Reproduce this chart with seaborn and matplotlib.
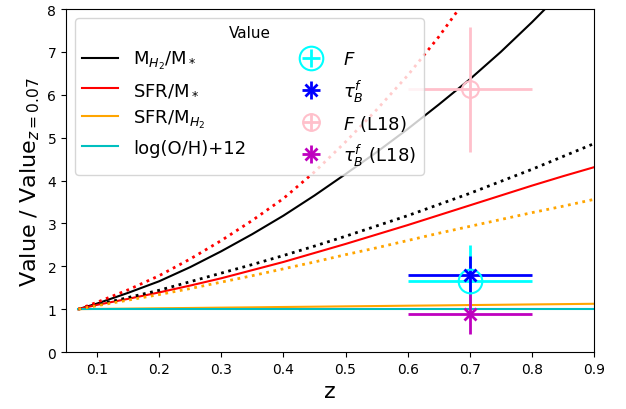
"""Normalised evolution of galaxy properties with redshift."""

import matplotlib
matplotlib.use("Agg")
import matplotlib.pyplot as plt
import seaborn as sns
import pandas as pd

# redshift grid
z = [0.07, 0.1, 0.15, 0.2, 0.25, 0.3, 0.35, 0.4, 0.45,
     0.5, 0.55, 0.6, 0.65, 0.7, 0.75, 0.8, 0.85, 0.9]

# solid curves (labelled)
mh2_mstar = [1.0, 1.13, 1.38, 1.65, 1.98, 2.35, 2.75, 3.18, 3.65,
             4.15, 4.66, 5.20, 5.77, 6.36, 7.00, 7.69, 8.42, 9.20]
sfr_mstar = [1.0, 1.10, 1.24, 1.39, 1.55, 1.72, 1.91, 2.10, 2.31,
             2.52, 2.74, 2.96, 3.19, 3.42, 3.65, 3.88, 4.10, 4.31]
sfr_mh2 = [1.0, 1.005, 1.012, 1.02, 1.027, 1.035, 1.042, 1.05, 1.057,
           1.065, 1.072, 1.08, 1.087, 1.095, 1.102, 1.11, 1.117, 1.125]
oh_12 = [1.0] * 18

# dotted curves (no label)
mh2_mstar_alt = [1.0, 1.10, 1.27, 1.44, 1.64, 1.84, 2.04, 2.25, 2.47,
                 2.70, 2.94, 3.18, 3.44, 3.70, 3.98, 4.26, 4.56, 4.86]
sfr_mstar_alt = [1.0, 1.16, 1.45, 1.78, 2.17, 2.60, 3.07, 3.58, 4.20,
                 4.90, 5.65, 6.45, 7.35, 8.35, 9.40, 10.5, 11.7, 13.0]
sfr_mh2_alt = [1.0, 1.08, 1.21, 1.34, 1.48, 1.63, 1.78, 1.94, 2.10,
               2.27, 2.43, 2.60, 2.77, 2.93, 3.09, 3.25, 3.40, 3.56]

# point measurements at z = 0.7
pt_z = 0.7
pt_zerr = 0.1
F_val, F_err = 1.66, 0.84
tau_val, tau_err = 1.80, 0.45
F_l18_val, F_l18_err = 6.13, 1.46
tau_l18_val, tau_l18_err = 0.89, 0.47

df = pd.DataFrame({
    "z": z,
    "mh2_mstar": mh2_mstar,
    "sfr_mstar": sfr_mstar,
    "sfr_mh2": sfr_mh2,
    "oh_12": oh_12,
    "mh2_mstar_alt": mh2_mstar_alt,
    "sfr_mstar_alt": sfr_mstar_alt,
    "sfr_mh2_alt": sfr_mh2_alt,
})

fig, ax = plt.subplots(figsize=(6.26, 4.10), dpi=100)
fig.subplots_adjust(left=0.1054, right=0.9489, top=0.9756, bottom=0.139)

# solid model curves
sns.lineplot(data=df, x="z", y="mh2_mstar", color="k", lw=1.5, ax=ax)
sns.lineplot(data=df, x="z", y="sfr_mstar", color="r", lw=1.5, ax=ax)
sns.lineplot(data=df, x="z", y="sfr_mh2", color="orange", lw=1.5, ax=ax)
sns.lineplot(data=df, x="z", y="oh_12", color="c", lw=1.5, ax=ax)
h_lines = list(ax.get_lines())

# dotted alternative curves
sns.lineplot(data=df, x="z", y="mh2_mstar_alt", color="k", ls=":", lw=2, ax=ax)
sns.lineplot(data=df, x="z", y="sfr_mstar_alt", color="r", ls=":", lw=2, ax=ax)
sns.lineplot(data=df, x="z", y="sfr_mh2_alt", color="orange", ls=":", lw=2, ax=ax)

# measurements
e1 = ax.errorbar(pt_z, F_val, xerr=pt_zerr, yerr=F_err, fmt="o", color="cyan",
                 mfc="none", ms=17, mew=1.5, lw=2)
e2 = ax.errorbar(pt_z, tau_val, xerr=pt_zerr, yerr=tau_err, fmt="x", color="b",
                 ms=9, mew=2, lw=2)
e3 = ax.errorbar(pt_z, F_l18_val, xerr=pt_zerr, yerr=F_l18_err, fmt="o", color="pink",
                 mfc="none", ms=12, mew=1.5, lw=2)
e4 = ax.errorbar(pt_z, tau_l18_val, xerr=pt_zerr, yerr=tau_l18_err, fmt="x", color="m",
                 ms=9, mew=2, lw=2)

ax.set_xlim(0.05, 0.9)
ax.set_ylim(0, 8)
ax.set_xticks([0.1, 0.2, 0.3, 0.4, 0.5, 0.6, 0.7, 0.8, 0.9])
ax.set_xlabel("z", fontsize=16)
ax.set_ylabel("Value / Value$_{z=0.07}$", fontsize=16)

labels = [
    r"M$_{H_2}$/M$_*$",
    r"SFR/M$_*$",
    r"SFR/M$_{H_2}$",
    r"log(O/H)+12",
    r"$F$",
    r"$\tau_B^f$",
    r"$F$ (L18)",
    r"$\tau_B^f$ (L18)",
]
ax.legend(h_lines + [e1, e2, e3, e4], labels, loc="upper left", ncol=2,
          fontsize=13, title="Value", title_fontsize=11, columnspacing=2.6)

plt.savefig("out.png", dpi=100)
plt.close()
